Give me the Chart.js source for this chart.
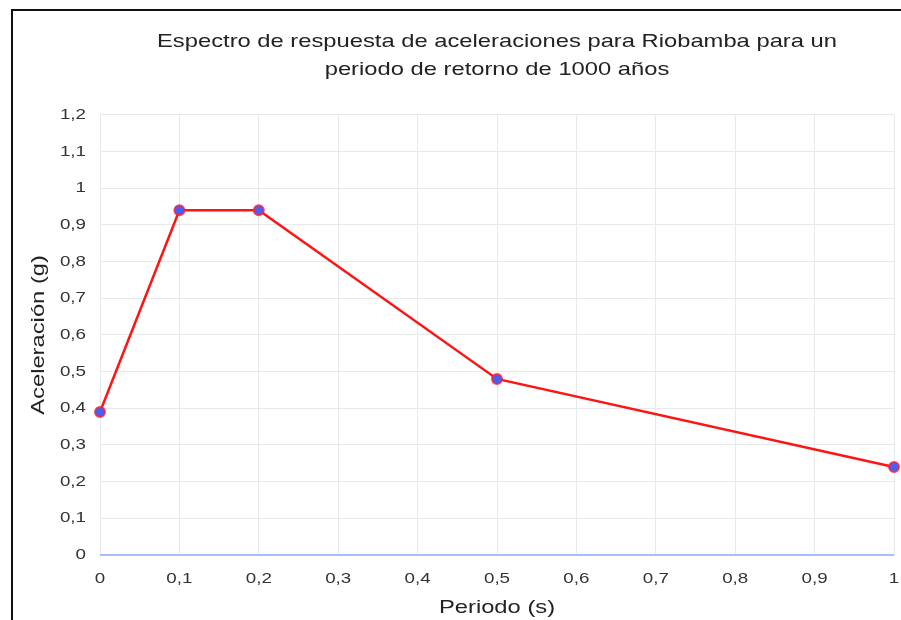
<!DOCTYPE html>
<html>
<head>
<meta charset="utf-8">
<title>Espectro de respuesta</title>
<script src="https://cdn.jsdelivr.net/npm/chart.js@4"></script>
<style>
  html, body { margin: 0; padding: 0; background: #fff; }
  #wrap { position: relative; width: 901px; height: 620px; overflow: hidden; }
  #frame {
    position: absolute; left: 11px; top: 9px; width: 1000px; height: 1000px;
    border-left: 2px solid #111; border-top: 2px solid #111; pointer-events: none;
  }
  canvas { position: absolute; left: 0; top: 0; }
</style>
</head>
<body>
<div id="wrap">
  <canvas id="myChart" width="901" height="620"></canvas>
  <div id="frame"></div>
</div>
<script>
// periodo (s) y aceleración (g)
const periodos = [0, 0.1, 0.2, 0.5, 1];
const aceleraciones = [0.39, 0.94, 0.94, 0.48, 0.24];

const xTickLabels = ["0", "0,1", "0,2", "0,3", "0,4", "0,5", "0,6", "0,7", "0,8", "0,9", "1"];
const yTickLabels = ["0", "0,1", "0,2", "0,3", "0,4", "0,5", "0,6", "0,7", "0,8", "0,9", "1", "1,1", "1,2"];

const tituloLineas = [
  "Espectro de respuesta de aceleraciones para Riobamba para un",
  "periodo de retorno de 1000 años",
];

const FONT = "'Liberation Sans', Arial, sans-serif";
const gridColor = "#e6eaed";
const zeroColor = "#aabcfa";
const TEXT_WIDEN = 1.25;

document.addEventListener("DOMContentLoaded", function () {
  const ctx = document.getElementById("myChart").getContext("2d");

  // wider lettering: stretch every label horizontally around its anchor
  const baseFillText = ctx.fillText.bind(ctx);
  ctx.fillText = function (text, x, y) {
    this.save();
    this.translate(x, y);
    this.scale(TEXT_WIDEN, 1);
    baseFillText(text, 0, 0);
    this.restore();
  };

  const data = {
    datasets: [
      {
        label: "Espectro",
        data: periodos.map((p, i) => ({ x: p, y: aceleraciones[i] })),
        borderColor: "#ff1414",
        borderWidth: 2.5,
        pointRadius: 5,
        pointBorderWidth: 2,
        pointBorderColor: "rgba(255, 30, 50, 0.8)",
        pointBackgroundColor: "#4a5ff2",
        tension: 0,
        fill: false,
        clip: 8,
      },
    ],
  };

  const options = {
    responsive: false,
    animation: false,
    layout: { padding: { left: 0, right: 4, top: 0, bottom: 0 } },
    plugins: {
      legend: { display: false },
      tooltip: { enabled: false },
      title: {
        display: true,
        fullSize: false,
        text: tituloLineas,
        color: "#222",
        font: { family: FONT, size: 19, weight: "normal", lineHeight: 1.47 },
        padding: { top: 28, bottom: 31 },
      },
    },
    scales: {
      x: {
        type: "linear",
        min: 0,
        max: 1,
        afterFit: (scale) => {
          scale.height = 65;
          scale.paddingLeft = 0;
          scale.paddingRight = 0;
        },
        ticks: {
          stepSize: 0.1,
          padding: 15,
          color: "#333",
          font: { family: FONT, size: 15 },
          callback: (v) => xTickLabels[Math.round(v * 10)],
        },
        grid: { color: gridColor, lineWidth: 1, drawTicks: false },
        border: { display: false },
        title: {
          display: true,
          text: "Periodo (s)",
          color: "#222",
          font: { family: FONT, size: 19 },
          padding: { top: 0, bottom: 1 },
        },
      },
      y: {
        min: 0,
        max: 1.2,
        afterFit: (scale) => { scale.width = 100; },
        ticks: {
          stepSize: 0.1,
          padding: 14,
          color: "#333",
          font: { family: FONT, size: 15 },
          callback: (v) => yTickLabels[Math.round(v * 10)],
        },
        grid: {
          drawTicks: false,
          lineWidth: (c) => (c.tick && c.tick.value === 0 ? 2 : 1),
          color: (c) => (c.tick && c.tick.value === 0 ? zeroColor : gridColor),
        },
        border: { display: false },
        title: {
          display: true,
          text: "Aceleración (g)",
          color: "#222",
          font: { family: FONT, size: 19 },
          padding: { top: 27, bottom: 0 },
        },
      },
    },
  };

  new Chart(ctx, {
    type: "line",
    data: data,
    options: options,
  });
});
</script>
</body>
</html>
